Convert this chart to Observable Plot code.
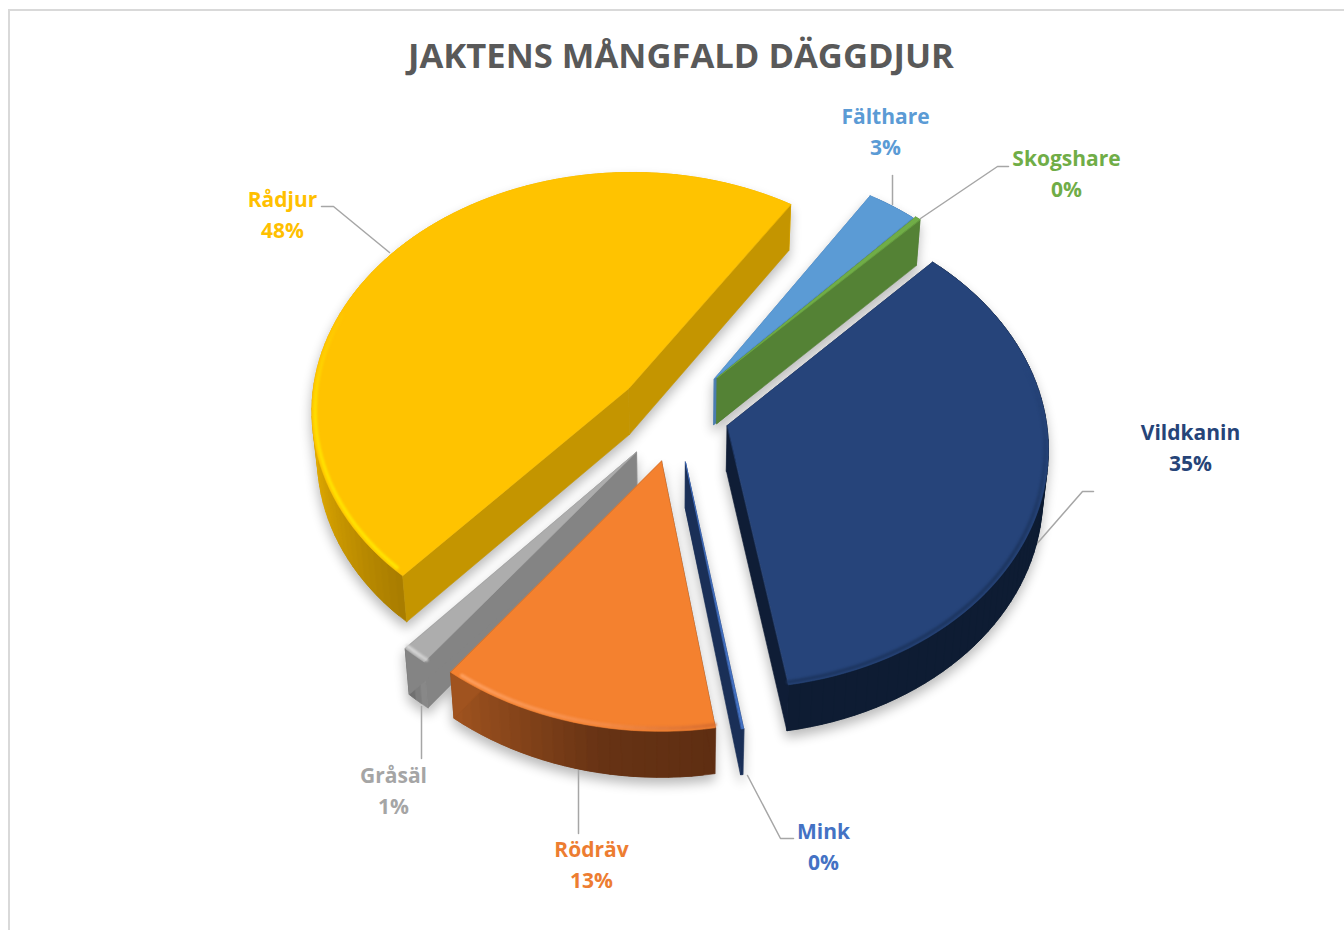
<!DOCTYPE html>
<html lang="sv">
<head>
<meta charset="utf-8">
<title>Jaktens mångfald däggdjur</title>
<script src="https://cdn.jsdelivr.net/npm/d3@7"></script>
<script src="https://cdn.jsdelivr.net/npm/@observablehq/plot@0.6"></script>
<style>
  html, body { margin: 0; padding: 0; background: #fff; overflow: hidden; width: 1344px; height: 930px; }
  #wrap { position: relative; width: 1344px; height: 930px; overflow: hidden; }
  #frame { position: absolute; left: 8px; top: 9px; width: 1400px; height: 1000px; border: 2px solid #d9d9d9; pointer-events: none; }
  #title { width: 1362px; height: 100px; padding-top: 31px; box-sizing: border-box; text-align: center;
           font: 700 34.6px/48px "Open Sans", sans-serif; color: #595959; white-space: nowrap; }
  #chart svg { display: block; }
</style>
</head>
<body>
<div id="wrap">
  <div id="title">JAKTENS MÅNGFALD DÄGGDJUR</div>
  <div id="chart"></div>
  <div id="frame"></div>
</div>
<script>
// ---- data ----
const categories = ["Fälthare", "Skogshare", "Vildkanin", "Mink", "Rödräv", "Gråsäl", "Rådjur"];
const shares     = [2.8, 0.3, 35.2, 0.1, 12.8, 1.2, 47.5];
const labelColors = ["#5b9bd5", "#70ad47", "#264478", "#4472c4", "#ed7d31", "#a5a5a5", "#ffc000"];

// ---- styles per slice ----
const topColors  = ["#5b9bd5", "#70ad47", "#26447a", "#4472c4", "#f4812f", "#adadad", "#ffc300"];
const startFaceColors = ["#4a7cb0", "#548235", "#0f1d36", "#1a2f57", "#5f2e12", "#848484", "#c49500"];
const endFaceColors   = ["#4a7cb0", "#548235", "#0f1d36", "#1a2f57", "#a0531f", "#848484", "#c49500"];
const wallRamps = [
  [[32, "#4a7cb0"], [43, "#4a7cb0"]],
  [[43, "#548235"], [44, "#548235"]],
  [[44, "#0e1c33"], [170, "#0e1c33"]],
  [[170, "#1a2f57"], [171, "#1a2f57"]],
  [[171, "#5f2e12"], [190, "#673314"], [217, "#a0531f"]],
  [[217, "#8e8e8e"], [219, "#808080"], [222, "#666666"]],
  [[222, "#a87c00"], [250, "#d4a000"], [285, "#f5bb00"]]
];
const rimRamps = [
  null,
  null,
  [[75, "#26447a"], [120, "#1d3661"], [171, "#1d3661"]],
  null,
  [[171, "#d96f30"], [190, "#f58c48"], [217, "#ffa262"]],
  [[217, "#d0d0d0"], [222, "#d8d8d8"]],
  [[222, "#ffe600"], [262, "#ffe000"], [290, "#ffc300"]]
];

// ---- layout: projection of the tilted disc, explosion of each slice, labels ----
const firstAngle = 32.7, discStep = 2;
const cx = 672, cy = 412, rx = 318, ry = 238.4, persp = 0.085, depth = 46, converge = 0.015;
const explodeU = [0.1334, 0.1429, 0.1716, 0.040, -0.0339, -0.1123, -0.1389];
const explodeV = [-0.1437, -0.148, 0.054, 0.2048, 0.2008, 0.1645, -0.1011];
const labelX = [885, 1066, 1190, 823, 591, 393, 282];
const labelY = [129, 171, 445, 844, 862, 788, 212];
const leaderPaths = [
  [[892, 175], [892, 204]],
  [[1008, 166], [997, 166], [920, 218]],
  [[1093, 491], [1082, 491], [1034, 546]],
  [[793, 838], [780, 838], [747, 775]],
  [[578, 770], [578, 833]],
  [[421, 706], [421, 758]],
  [[321, 206], [333, 206], [389, 252]]
];
const paintOrder = [0, 1, 6, 2, 5, 4, 3];

// ---- geometry derived from the shares ----
const total = d3.sum(shares);
let acc = firstAngle;
const slices = shares.map((v, i) => {
  const a0 = acc; acc += v / total * 360;
  return {i, name: categories[i], a0, a1: acc};
});

function topPoint(s, u, v) {
  const w = 1 - persp * v;
  return [cx + rx * u / w, cy + ry * v / w];
}
function discPoint(s, a, r = 1) {
  const t = a * Math.PI / 180;
  return topPoint(s, explodeU[s.i] + r * Math.sin(t), explodeV[s.i] - r * Math.cos(t));
}
function drop([x, y]) { return [x + (cx - x) * converge, y + depth]; }
function arcAngles(s) {
  const n = Math.max(1, Math.ceil((s.a1 - s.a0) / discStep));
  return d3.range(n + 1).map(k => s.a0 + (s.a1 - s.a0) * k / n);
}
function rampColor(ramp, a) {
  return d3.scaleLinear().domain(ramp.map(d => d[0])).range(ramp.map(d => d[1]))
    .interpolate(d3.interpolateRgb).clamp(true)(a);
}

const polys = [], rims = [];
let pid = 0;
function addPoly(pts, fill) {
  const id = pid++;
  for (const [x, y] of pts) polys.push({id, x, y, fill});
}
for (const oi of paintOrder) {
  const s = slices[oi];
  const apex = topPoint(s, explodeU[s.i], explodeV[s.i]);
  const A = arcAngles(s);
  const rim = A.map(a => discPoint(s, a));
  const last = rim.length - 1;
  // walls overlap their neighbour by one step, so that no seam shows
  for (let k = 0; k < last; k++) {
    const e = Math.min(k + 2, last);
    const mid = rim.slice(k, e + 1);
    addPoly([...mid, ...mid.slice().reverse().map(drop)],
            rampColor(wallRamps[s.i], (A[k] + A[k + 1]) / 2));
  }
  addPoly([apex, rim[0], drop(rim[0]), drop(apex)], startFaceColors[s.i]);
  addPoly([apex, rim[last], drop(rim[last]), drop(apex)], endFaceColors[s.i]);
  addPoly([apex, ...rim], topColors[s.i]);
  // the bevel along the outer edge of the top
  if (rimRamps[s.i]) {
    const lo = rimRamps[s.i][0][0], hi = rimRamps[s.i][rimRamps[s.i].length - 1][0];
    for (const a of A) {
      if (a < lo || a > hi) continue;
      const [x, y] = discPoint(s, a, 0.99);
      rims.push({id: s.i, x, y, stroke: rampColor(rimRamps[s.i], a)});
    }
  }
}
const leaderRows = leaderPaths.flatMap((p, i) => p.map(([x, y]) => ({i, x, y})));
const labelRows = categories.map((name, i) => ({
  text: name + "\n" + Math.round(shares[i]) + "%",
  x: labelX[i], y: labelY[i], color: labelColors[i]
}));

const withStyle = (css) => (index, scales, values, dims, ctx, next) => {
  const g = next(index, scales, values, dims, ctx);
  g.setAttribute("style", (g.getAttribute("style") || "") + ";" + css);
  return g;
};

const titleH = 100;
const chart = Plot.plot({
  width: 1344, height: 930 - titleH,
  margin: 0,
  x: {type: "linear", domain: [0, 1344], range: [0, 1344], axis: null},
  y: {type: "linear", domain: [titleH, 930], range: [0, 930 - titleH], axis: null},
  color: {type: "identity"},
  style: {background: "transparent"},
  marks: [
    Plot.line(polys, {x: "x", y: "y", z: "id", curve: "linear-closed", fill: "#000", stroke: "#000",
      strokeWidth: 1, render: withStyle("opacity:.27;filter:blur(6px);transform:translate(0px,7px)")}),
    Plot.line(leaderRows, {x: "x", y: "y", z: "i", stroke: "#a6a6a6", strokeWidth: 1.5}),
    Plot.line(polys, {x: "x", y: "y", z: "id", curve: "linear-closed", fill: "fill", stroke: "fill", strokeWidth: 0.6}),
    Plot.line(rims, {x: "x", y: "y", z: "id", stroke: "stroke", strokeWidth: 3.5, curve: "linear",
      render: withStyle("filter:blur(0.9px)")}),
    Plot.text(labelRows, {x: "x", y: "y", text: "text", fill: "color", textAnchor: "middle",
      lineAnchor: "middle", lineHeight: 1.476, fontSize: 21, fontWeight: 700, fontFamily: "Open Sans, sans-serif"})
  ]
});
document.getElementById("chart").appendChild(chart);
</script>
</body>
</html>
